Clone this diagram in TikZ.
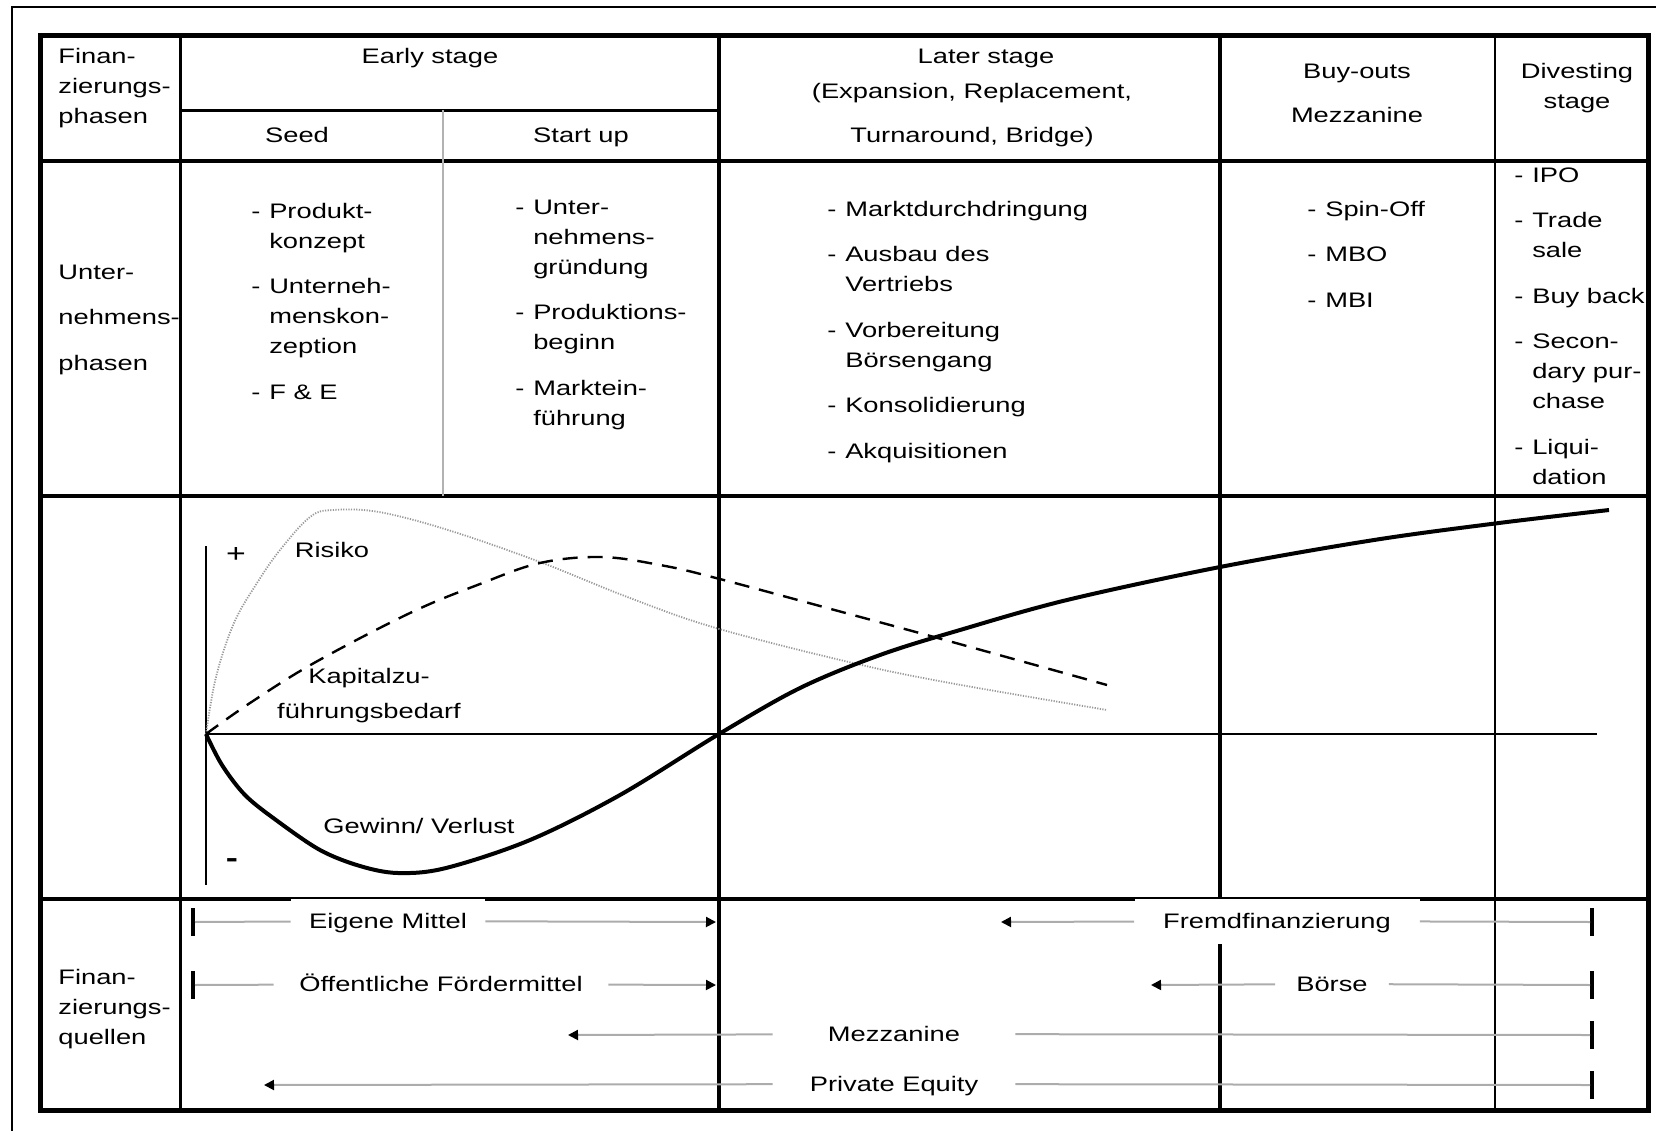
\documentclass[tikz,border=0pt]{standalone}
\usepackage{fontspec}
\setmainfont{Liberation Sans}[FakeStretch=1.3]
\usetikzlibrary{arrows.meta}
\begin{document}
\begin{tikzpicture}[x=0.5pt,y=-0.5pt,
    every node/.style={inner sep=0pt,font=\fontsize{10.5}{15}\selectfont},
    frameline/.style={line width=2.5pt},
    rowline/.style={line width=2pt},
    colline/.style={line width=2pt},
    axis/.style={line width=1.2pt},
    risk/.style={gray!80,line width=0.9pt,dash pattern=on 0.6pt off 0.7pt},
    demand/.style={line width=1.2pt,dash pattern=on 7.5pt off 5pt},
    profit/.style={line width=2pt},
    tickmark/.style={fill=black,minimum width=1.6pt,minimum height=14pt},
    srclabel/.style={fill=white,text height=9pt,text depth=1.5pt,minimum height=18pt},
    srcline/.style={gray!65,line width=1pt},
    srcarrow/.style={srcline,-{Triangle[black,length=5pt,width=5pt]}}]
  \useasboundingbox (0,0) rectangle (1656,1131);
  \draw[line width=1.2pt] (12,1131) -- (12,7) -- (1656,7);
  \draw[frameline] (40,35) rectangle (1648,1110);
  \draw[rowline] (40,161) -- (1648,161) (40,496) -- (1648,496) (40,899) -- (1648,899);
  \draw[line width=1.5pt] (180,110) -- (719,110);
  \draw[line width=1.5pt] (180,35) -- (180,1110);
  \draw[colline] (719,35) -- (719,1110) (1220,35) -- (1220,1110);
  \draw[line width=1.4pt] (1495,35) -- (1495,1110);
  \draw[gray!60,line width=0.6pt] (443,110) -- (443,496);
  \node[anchor=base west] (phasehead) at (58,63) {\begin{tabular}[t]{@{}l@{}}Finan-\\zierungs-\\phasen\end{tabular}};
  \node[anchor=base] (early) at (430,63) {Early stage};
  \node[anchor=base] (seed) at (297,142) {Seed};
  \node[anchor=base] (startup) at (581,142) {Start up};
  \node[anchor=base] (later) at (972,63) {\begin{tabular}[t]{@{}c@{}}\hspace*{14pt}Later stage\\[2.5pt](Expansion, Replacement,\\[7pt]Turnaround, Bridge)\end{tabular}};
  \node[anchor=base] (buyout) at (1357,78) {\begin{tabular}[t]{@{}c@{}}Buy-outs\\[7pt]Mezzanine\end{tabular}};
  \node[anchor=base] (divest) at (1577,78) {\begin{tabular}[t]{@{}c@{}}Divesting\\stage\end{tabular}};
  \node[anchor=base west] (firmhead) at (58,279) {\begin{tabular}[t]{@{}l@{}}Unter-\\[7.75pt]nehmens-\\[7.75pt]phasen\end{tabular}};
  \node[anchor=base west] (seedlist) at (251,218) {\begin{tabular}[t]{@{}l@{\hspace{4.4pt}}l@{}}
    - & Produkt-\\ & konzept\\[7.75pt]
    - & Unterneh-\\ & menskon-\\ & zeption\\[7.75pt]
    - & F \& E\end{tabular}};
  \node[anchor=base west] (startlist) at (515,214) {\begin{tabular}[t]{@{}l@{\hspace{4.4pt}}l@{}}
    - & Unter-\\ & nehmens-\\ & gründung\\[7.75pt]
    - & Produktions-\\ & beginn\\[7.75pt]
    - & Marktein-\\ & führung\end{tabular}};
  \node[anchor=base west] (laterlist) at (827,216) {\begin{tabular}[t]{@{}l@{\hspace{4.4pt}}l@{}}
    - & Marktdurchdringung\\[7.75pt]
    - & Ausbau des\\ & Vertriebs\\[7.75pt]
    - & Vorbereitung\\ & Börsengang\\[7.75pt]
    - & Konsolidierung\\[7.75pt]
    - & Akquisitionen\end{tabular}};
  \node[anchor=base west] (buylist) at (1307,216) {\begin{tabular}[t]{@{}l@{\hspace{4.4pt}}l@{}}
    - & Spin-Off\\[7.75pt]
    - & MBO\\[7.75pt]
    - & MBI\end{tabular}};
  \node[anchor=base west] (divlist) at (1514,182) {\begin{tabular}[t]{@{}l@{\hspace{4.4pt}}l@{}}
    - & IPO\\[7.75pt]
    - & Trade\\ & sale\\[7.75pt]
    - & Buy back\\[7.75pt]
    - & Secon-\\ & dary pur-\\ & chase\\[7.75pt]
    - & Liqui-\\ & dation\end{tabular}};
  \draw[axis] (206,546) -- (206,885);
  \draw[axis] (206,734) -- (1597,734);
  \draw[risk] plot[smooth,tension=0.6] coordinates {(206,734) (216,677) (234,623) (257,583) (280,550) (310,517) (333,510) (379,512) (448,530) (540,562) (630,598) (716,628) (853,663) (950,683) (1107,710)};
  \draw[demand] plot[smooth,tension=0.6] coordinates {(206,734) (250,703) (314,663) (410,613) (480,584) (540,563) (601,557) (660,565) (716,578) (853,615) (945,640) (1107,685)};
  \draw[profit] plot[smooth,tension=0.55] coordinates {(206,734) (222,765) (245,795) (276,820) (320,850) (360,866) (398,873) (446,868) (530,840) (620,795) (719,734) (800,688) (880,655) (960,630) (1067,600) (1220,567) (1374,540) (1499,523) (1609,510)};
  \node[font=\fontsize{13}{13}\selectfont] (plus) at (236,555) {+};
  \node[font=\fontsize{14}{14}\selectfont\bfseries] (minus) at (232,863) {-};
  \node[anchor=base] (risklabel) at (332,557) {Risiko};
  \node[anchor=base] (demandlabel) at (369,683) {\begin{tabular}[t]{@{}c@{}}Kapitalzu-\\[2.5pt]führungsbedarf\end{tabular}};
  \node[anchor=base] (profitlabel) at (419,833) {Gewinn/ Verlust};
  \node[anchor=base west] (sourcehead) at (58,984) {\begin{tabular}[t]{@{}l@{}}Finan-\\zierungs-\\quellen\end{tabular}};
  \node[tickmark] (own-l) at (193,922) {};
  \coordinate (own-r) at (716,922);
  \node[srclabel,minimum width=97pt,minimum height=22.5pt] (own) at (388,921) {Eigene Mittel};
  \draw[srcline] (own-l) -- (own);
  \draw[srcarrow] (own) -- (own-r);
  \node[tickmark] (pub-l) at (193,985) {};
  \coordinate (pub-r) at (716,985);
  \node[srclabel,minimum width=167pt] (pub) at (441,984) {Öffentliche Fördermittel};
  \draw[srcline] (pub-l) -- (pub);
  \draw[srcarrow] (pub) -- (pub-r);
  \coordinate (debt-l) at (1001,922);
  \node[tickmark] (debt-r) at (1592,922) {};
  \node[srclabel,minimum width=142.5pt,minimum height=22.5pt] (debt) at (1277,921) {Fremdfinanzierung};
  \draw[srcline] (debt-r) -- (debt);
  \draw[srcarrow] (debt) -- (debt-l);
  \coordinate (stock-l) at (1151,985);
  \node[tickmark] (stock-r) at (1592,985) {};
  \node[srclabel,minimum width=56.5pt] (stock) at (1332,984) {Börse};
  \draw[srcline] (stock-r) -- (stock);
  \draw[srcarrow] (stock) -- (stock-l);
  \coordinate (mezz-l) at (568,1035);
  \node[tickmark] (mezz-r) at (1592,1035) {};
  \node[srclabel,minimum width=121pt] (mezz) at (894,1034) {Mezzanine};
  \draw[srcline] (mezz-r) -- (mezz);
  \draw[srcarrow] (mezz) -- (mezz-l);
  \coordinate (pe-l) at (264,1085);
  \node[tickmark] (pe-r) at (1592,1085) {};
  \node[srclabel,minimum width=121pt] (pe) at (894,1084) {Private Equity};
  \draw[srcline] (pe-r) -- (pe);
  \draw[srcarrow] (pe) -- (pe-l);
\end{tikzpicture}
\end{document}
